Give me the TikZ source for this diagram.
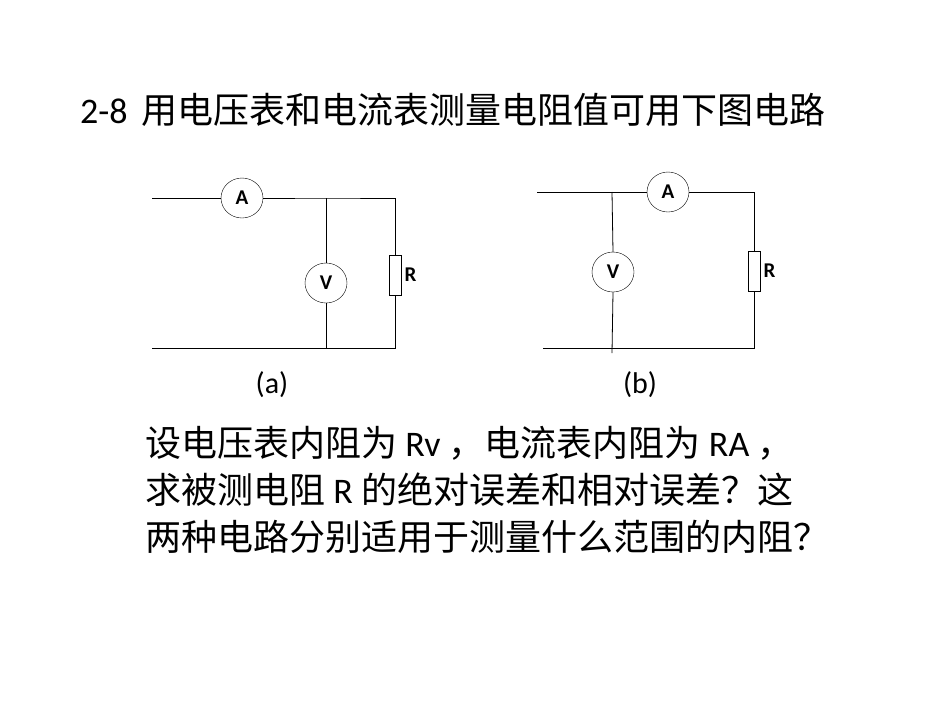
\documentclass[tikz,border=0pt]{standalone}
\usepackage{fontspec}
\setmainfont{Carlito}
\newfontfamily\cjk{Noto Sans CJK SC}
\usetikzlibrary{shapes.geometric}
\begin{document}
\begin{tikzpicture}[x=1pt,y=-1pt,
  meter/.style={draw,ellipse,minimum width=42pt,minimum height=40pt,inner sep=0pt,font=\fontsize{21}{24}\selectfont\bfseries},
  res/.style={draw,minimum width=12pt,minimum height=40pt,inner sep=0pt},
  wire/.style={line width=0.8pt},
  txt/.style={anchor=west,inner sep=0pt,font=\fontsize{36}{40}\selectfont}]
\useasboundingbox (0,0) rectangle (950,713);
\node[txt] (title) at (80,110) {2-8\, {\cjk 用电压表和电流表测量电阻值可用下图电路}};
% circuit a
\node[meter] (A1) at (242,198) {A};
\node[meter] (V1) at (326,283) {V};
\node[res] (R1) at (395,275) {};
\node[anchor=west,font=\fontsize{21}{24}\selectfont\bfseries] (Rl1) at (R1.east) {R};
\coordinate (a1) at (152,198);
\coordinate (j1) at (326,198);
\coordinate (k1) at (395,198);
\coordinate (b1) at (152,348);
\coordinate (m1) at (326,348);
\coordinate (n1) at (395,348);
\draw[wire] (a1) -- (A1.west);
\draw[wire] (A1.east) -- (j1) -- (k1) -- (R1.north);
\draw[wire] (j1) -- (V1.north);
\draw[wire] (V1.south) -- (m1);
\draw[wire] (b1) -- (n1) -- (R1.south);
\node[font=\fontsize{30}{34}\selectfont] (la) at (272,385) {(a)};
% circuit b
\node[meter] (A2) at (668,192) {A};
\node[meter] (V2) at (613,272) {V};
\node[res] (R2) at (754,271) {};
\node[anchor=west,font=\fontsize{21}{24}\selectfont\bfseries] (Rl2) at (R2.east) {R};
\coordinate (a2) at (537,192);
\coordinate (j2) at (612,192);
\coordinate (k2) at (754,192);
\coordinate (b2) at (543,348);
\coordinate (m2) at (612,353);
\coordinate (n2) at (754,348);
\draw[wire] (a2) -- (A2.west);
\draw[wire] (A2.east) -- (k2) -- (R2.north);
\draw[wire] (j2) -- (V2.north);
\draw[wire] (V2.south) -- (m2);
\draw[wire] (b2) -- (n2) -- (R2.south);
\node[font=\fontsize{30}{34}\selectfont] (lb) at (640,385) {(b)};
% text
\node[txt] (t1) at (145,443) {{\cjk 设电压表内阻为} Rv {\cjk ，电流表内阻为} RA {\cjk ，}};
\node[txt] (t2) at (145,490) {{\cjk 求被测电阻} R {\cjk 的绝对误差和相对误差？这}};
\node[txt] (t3) at (145,537) {{\cjk 两种电路分别适用于测量什么范围的内阻？}};
\end{tikzpicture}
\end{document}
